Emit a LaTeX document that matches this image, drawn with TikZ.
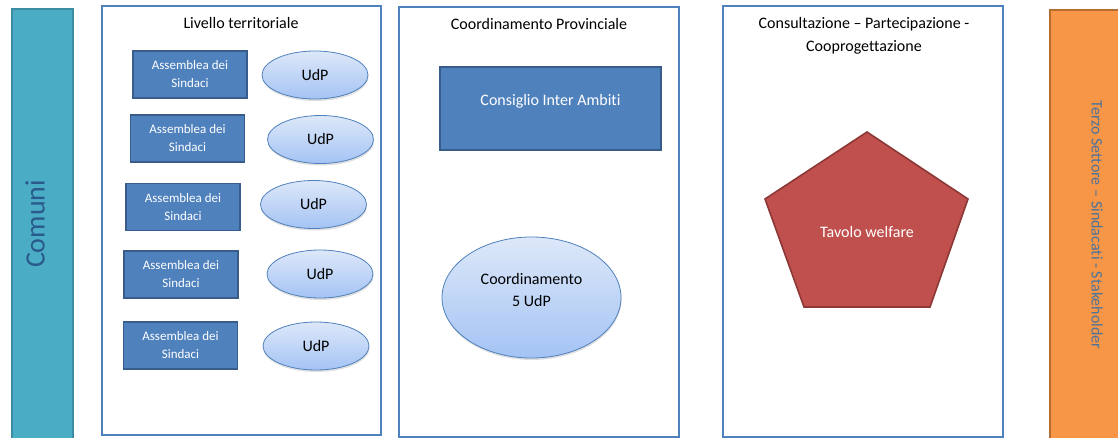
\documentclass[tikz,border=0pt]{standalone}
\usepackage{fontspec}
\setmainfont[Ligatures=NoCommon]{Carlito}
\usetikzlibrary{positioning, shapes.geometric, shadows}
\definecolor{tealbar}{HTML}{4BACC6}
\definecolor{tealedge}{HTML}{3C8DA3}
\definecolor{boxblue}{HTML}{4F81BD}
\definecolor{boxedge}{HTML}{385D8A}
\definecolor{udptop}{HTML}{DDE8F9}
\definecolor{udpbot}{HTML}{A4C3F4}
\definecolor{tavred}{HTML}{C0504D}
\definecolor{tavedge}{HTML}{8C3836}
\definecolor{orangebar}{HTML}{F79646}
\definecolor{orangeedge}{HTML}{B66D31}
\definecolor{bartext}{HTML}{2A5A8C}

\begin{document}
\begin{tikzpicture}[x=1pt, y=-1pt,
    livello/.style={draw=boxblue, line width=2.4pt, fill=white},
    titolo/.style={font=\fontsize{16}{23}\selectfont, align=center},
    assemblea/.style={draw=boxedge, line width=1.8pt, fill=boxblue, text=white,
      minimum width=114pt, minimum height=47pt, inner sep=0pt, align=center,
      font=\fontsize{13}{18}\selectfont},
    udp/.style={ellipse, draw=boxblue, line width=0.8pt, top color=udptop, bottom color=udpbot,
      minimum width=106pt, minimum height=48pt, inner sep=0pt, align=center,
      font=\fontsize{16}{22}\selectfont,
      drop shadow={opacity=0.25, shadow xshift=0.5pt, shadow yshift=-2pt}}]
    \useasboundingbox (0,0) rectangle (1118,438);
    % Barra Comuni
    \draw[draw=tealedge, line width=1.5pt, fill=tealbar] (12,9) rectangle (73,440);
    \node[rotate=90, text=bartext, font=\fontsize{28}{30}\selectfont] (comuni) at (35,224) {Comuni};
    % Livello territoriale
    \draw[livello] (102,6) rectangle (381,435);
    \node[titolo] (titTerr) at (241,23) {Livello territoriale};
    \node[assemblea] (ass1) at (190,74.5) {Assemblea dei\\Sindaci};
    \node[assemblea] (ass2) at (187.5,138.5) {Assemblea dei\\Sindaci};
    \node[assemblea] (ass3) at (183,207) {Assemblea dei\\Sindaci};
    \node[assemblea] (ass4) at (181,274.5) {Assemblea dei\\Sindaci};
    \node[assemblea] (ass5) at (180.5,345.5) {Assemblea dei\\Sindaci};
    \node[udp] (udp1) at (315,75) {UdP};
    \node[udp] (udp2) at (320.5,139.5) {UdP};
    \node[udp] (udp3) at (313.5,204.5) {UdP};
    \node[udp] (udp4) at (320,274) {UdP};
    \node[udp] (udp5) at (316,346) {UdP};
    % Coordinamento Provinciale
    \draw[livello] (399,7) rectangle (679,437);
    \node[titolo] (titProv) at (539,24) {Coordinamento Provinciale};
    \node[assemblea, line width=1.5pt, minimum width=221pt, minimum height=83pt,
      font=\fontsize{16}{22}\selectfont, text depth=17pt] (consiglio) at (550.5,108.5) {Consiglio Inter Ambiti};
    \node[udp, minimum width=179pt, minimum height=121pt] (coord5) at (531.5,297.5) {};
    \node[align=center, font=\fontsize{16}{22}\selectfont] (coord5txt) at (531.5,290) {Coordinamento\\5 UdP};
    % Consultazione
    \draw[livello] (723,6) rectangle (1003,437);
    \node[titolo] (titCons) at (864,35.5) {Consultazione -- Partecipazione -\\Cooprogettazione};
    \draw[draw=tavedge, line width=1.6pt, fill=tavred, line join=miter]
      (867,132) -- (968,199) -- (930,307) -- (804,307) -- (765,199) -- cycle;
    \node[text=white, font=\fontsize{16}{22}\selectfont] (tavolo) at (867,232) {Tavolo welfare};
    % Barra Terzo Settore
    \draw[draw=orangeedge, line width=1.5pt, fill=orangebar] (1050,10) rectangle (1122,440);
    \node[rotate=-90, text=bartext!85, font=\fontsize{16}{20}\selectfont] (terzo) at (1097,225)
      {Terzo Settore -- Sindacati - Stakeholder};
\end{tikzpicture}
\end{document}
